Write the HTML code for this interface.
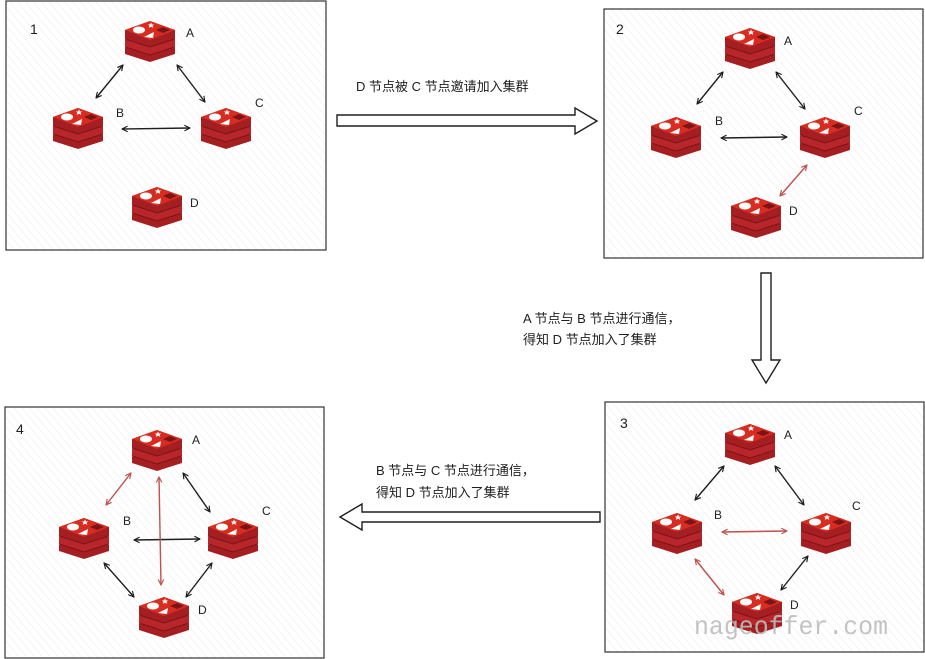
<!DOCTYPE html>
<html><head><meta charset="utf-8"><style>
body{margin:0;background:#fff;}
svg{display:block;}
.t{font-family:"Liberation Sans","Noto Sans CJK SC",sans-serif;}
.wm{font-family:"Liberation Mono","DejaVu Sans Mono",monospace;}
</style></head><body>
<svg width="925" height="659" viewBox="0 0 925 659" xmlns="http://www.w3.org/2000/svg">
<defs>
<pattern id="h" width="6" height="6" patternUnits="userSpaceOnUse" patternTransform="rotate(-40)">
<rect width="6" height="6" fill="#fff"/><line x1="0" y1="0" x2="0" y2="6" stroke="#eeeeee" stroke-width="1.2"/>
</pattern>
<marker id="mk" viewBox="0 0 10 10" refX="9" refY="5" markerWidth="7" markerHeight="7" orient="auto-start-reverse" markerUnits="userSpaceOnUse">
<path d="M1 1 L9 5 L1 9" fill="none" stroke="#1e1e1e" stroke-width="1.6"/></marker>
<marker id="mr" viewBox="0 0 10 10" refX="9" refY="5" markerWidth="7" markerHeight="7" orient="auto-start-reverse" markerUnits="userSpaceOnUse">
<path d="M1 1 L9 5 L1 9" fill="none" stroke="#c0504d" stroke-width="1.6"/></marker>
<symbol id="r" viewBox="0 0 50 42">
<path d="M0 28 L25 20 L50 28 L50 34 L25 42 L0 34Z" fill="#a41e22"/>
<path d="M0 20 L25 12 L50 20 L50 27 L25 35 L0 27Z" fill="#b8262b"/>
<path d="M0 27 L25 35 L50 27" fill="none" stroke="#7a1417" stroke-width="1"/>
<path d="M0 10 L25 1 L50 10 L50 19 L25 27 L0 19Z" fill="#a41e22"/>
<path d="M0 19 L25 27 L50 19" fill="none" stroke="#7a1417" stroke-width="1"/>
<path d="M0 10 L25 1 L50 10 L25 20Z" fill="#d82c20"/>
<ellipse cx="14" cy="10" rx="6" ry="3.5" fill="#fff"/>
<path d="M26 2.5 l1 2 2.2 0 -1.7 1.4 .8 2 -2.3 -1.2 -2.3 1.2 .8 -2 -1.7 -1.4 2.2 0z" fill="#fff"/>
<path d="M19 17 L29 12 L28 18Z" fill="#fff"/>
<path d="M31 10 L38 7 L45 10 L38 13Z" fill="#7a1417"/>
</symbol>
</defs>
<g stroke="#333" stroke-width="1.2" fill="url(#h)">
<rect x="6" y="1" width="320" height="249"/>
<rect x="604" y="9" width="319" height="249"/>
<rect x="605" y="402" width="319" height="250"/>
<rect x="5" y="407" width="319" height="251"/>
</g>
<g class="t" font-size="14" fill="#1e1e1e">
<text x="30" y="34">1</text><text x="616" y="34">2</text><text x="620" y="428">3</text><text x="16" y="434">4</text>
</g>
<use href="#r" x="125" y="20" width="50" height="42"/>
<use href="#r" x="53" y="107" width="50" height="42"/>
<use href="#r" x="201" y="107" width="50" height="42"/>
<use href="#r" x="132" y="186" width="50" height="42"/>
<g class="t" font-size="12" fill="#222"><text x="186" y="37">A</text><text x="116" y="117">B</text><text x="255" y="107">C</text><text x="190" y="207">D</text></g>
<g stroke="#1e1e1e" stroke-width="1.4" marker-start="url(#mk)" marker-end="url(#mk)">
<line x1="123" y1="65" x2="96" y2="98"/><line x1="177" y1="65" x2="205" y2="102"/><line x1="122" y1="129" x2="190" y2="128"/>
</g>
<use href="#r" x="725" y="27" width="50" height="42"/>
<use href="#r" x="651" y="116" width="50" height="42"/>
<use href="#r" x="800" y="116" width="50" height="42"/>
<use href="#r" x="731" y="196" width="50" height="42"/>
<g class="t" font-size="12" fill="#222"><text x="784" y="45">A</text><text x="715" y="125">B</text><text x="854" y="115">C</text><text x="789" y="215">D</text></g>
<g stroke="#1e1e1e" stroke-width="1.4" marker-start="url(#mk)" marker-end="url(#mk)">
<line x1="723" y1="72" x2="697" y2="104"/><line x1="776" y1="72" x2="805" y2="109"/><line x1="721" y1="138" x2="787" y2="137"/>
</g>
<line x1="807" y1="165" x2="780" y2="196" stroke="#c0504d" stroke-width="1.4" marker-start="url(#mr)" marker-end="url(#mr)"/>
<use href="#r" x="725" y="423" width="50" height="42"/>
<use href="#r" x="652" y="512" width="50" height="42"/>
<use href="#r" x="801" y="512" width="50" height="42"/>
<use href="#r" x="732" y="592" width="50" height="42"/>
<g class="t" font-size="12" fill="#222"><text x="784" y="439">A</text><text x="714" y="519">B</text><text x="852" y="510">C</text><text x="790" y="609">D</text></g>
<g stroke="#1e1e1e" stroke-width="1.4" marker-start="url(#mk)" marker-end="url(#mk)">
<line x1="724" y1="466" x2="695" y2="500"/><line x1="775" y1="466" x2="804" y2="505"/><line x1="808" y1="556" x2="781" y2="590"/>
</g>
<g stroke="#c0504d" stroke-width="1.4" marker-start="url(#mr)" marker-end="url(#mr)">
<line x1="722" y1="532" x2="787" y2="531"/><line x1="695" y1="559" x2="724" y2="595"/>
</g>
<use href="#r" x="132" y="429" width="50" height="42"/>
<use href="#r" x="59" y="517" width="50" height="42"/>
<use href="#r" x="208" y="517" width="50" height="42"/>
<use href="#r" x="139" y="596" width="50" height="42"/>
<g class="t" font-size="12" fill="#222"><text x="192" y="444">A</text><text x="123" y="525">B</text><text x="262" y="515">C</text><text x="198" y="614">D</text></g>
<g stroke="#1e1e1e" stroke-width="1.4" marker-start="url(#mk)" marker-end="url(#mk)">
<line x1="183" y1="473" x2="210" y2="512"/><line x1="134" y1="540" x2="200" y2="539"/>
<line x1="104" y1="563" x2="134" y2="597"/><line x1="212" y1="563" x2="186" y2="597"/>
</g>
<g stroke="#c0504d" stroke-width="1.4" marker-start="url(#mr)" marker-end="url(#mr)">
<line x1="131" y1="473" x2="106" y2="505"/><line x1="159" y1="477" x2="161" y2="585"/>
</g>
<g fill="#fff" stroke="#1e1e1e" stroke-width="1.4">
<path d="M337 115 L575 115 L575 108 L597 121 L575 134 L575 126 L337 126Z"/>
<path d="M761 273 L771 273 L771 360 L780 360 L766 383 L752 360 L761 360Z"/>
<path d="M600 512 L362 512 L362 504 L340 517 L362 530 L362 522 L600 522Z"/>
</g>
<g class="t" font-size="13" fill="#1e1e1e">
<text x="356" y="91">D 节点被 C 节点邀请加入集群</text>
<text x="523" y="323">A 节点与 B 节点进行通信，</text>
<text x="523" y="344">得知 D 节点加入了集群</text>
<text x="376" y="475">B 节点与 C 节点进行通信，</text>
<text x="376" y="497">得知 D 节点加入了集群</text>
</g>
<text class="wm" x="694" y="634" font-size="26" textLength="194" lengthAdjust="spacingAndGlyphs" fill="#bdbdbd" opacity="0.9">nageoffer.com</text>
</svg>
</body></html>
